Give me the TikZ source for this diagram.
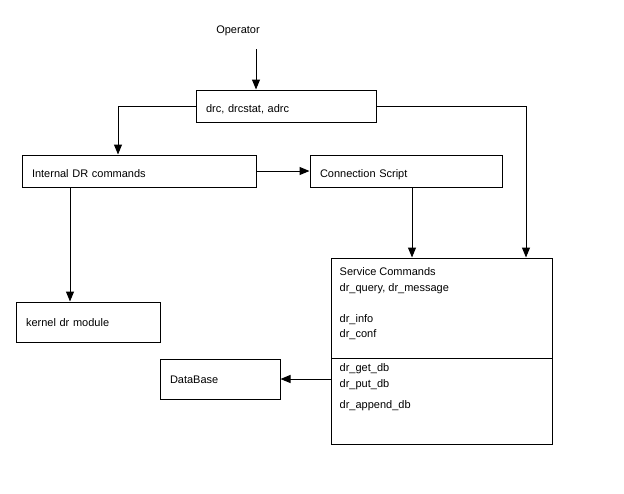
\documentclass[tikz,border=0pt]{standalone}
\usepackage{fontspec}
\setmainfont{Liberation Sans}
\usetikzlibrary{arrows.meta, positioning, calc}

\begin{document}
\begin{tikzpicture}[
    x=1pt, y=-1pt,
    font=\fontsize{11}{15.5}\selectfont,
    base/.style = {rectangle, draw=black, line width=1pt, inner xsep=10pt, inner ysep=0pt, text height=12pt, text depth=0pt, align=left, minimum height=32pt},
    tall/.style = {base, text height=8pt, minimum height=40pt},
    arrow/.style = {-{Triangle[length=10pt, width=8pt]}, line width=1pt},
    listing/.style = {inner sep=0pt, anchor=north west, align=left}
]
    \useasboundingbox (0,0) rectangle (624,493);
    \node (operator) at (238,31) {Operator};
    \coordinate (opfeed) at (256,49);
    \node[base, text width=160pt] (drc) at (286,106) {drc, drcstat, adrc};
    \node[base, text width=214pt] (internal) at (139,171) {Internal DR commands};
    \node[base, text width=172pt] (script) at (406,171) {Connection Script};
    \node[tall, text width=124pt] (kernel) at (88,322) {kernel dr module};
    \node[tall, text width=100pt] (database) at (220,379) {DataBase};
    % service commands box, two parts
    \node[base, text width=201pt, minimum height=100pt] (svctop) at (441.5,308) {};
    \node[base, text width=201pt, minimum height=86pt] (svcbot) at (441.5,401) {};
    \node[listing] (svclist) at ($(svctop.north west)+(9,10)$) {Service Commands\\dr\_query, dr\_message\\[15.5pt]dr\_info\\dr\_conf};
    \node[listing] (dblist) at ($(svcbot.north west)+(9,6)$) {dr\_get\_db\\dr\_put\_db\\[6pt]dr\_append\_db};
    \draw[arrow] (opfeed) -- (opfeed |- drc.north);
    \draw[arrow] (drc.west) -| ([xshift=-21pt]internal.north);
    \draw[arrow] (drc.east) -| ([xshift=84.5pt]svctop.north);
    \draw[arrow] (internal) -- (script);
    \draw[arrow] ([xshift=-69pt]internal.south) -- ([xshift=-69pt]internal.south |- kernel.north);
    \draw[arrow] ([xshift=6pt]script.south) -- ([xshift=6pt]script.south |- svctop.north);
    \draw[arrow] (svcbot.west |- database) -- (database);
\end{tikzpicture}
\end{document}
